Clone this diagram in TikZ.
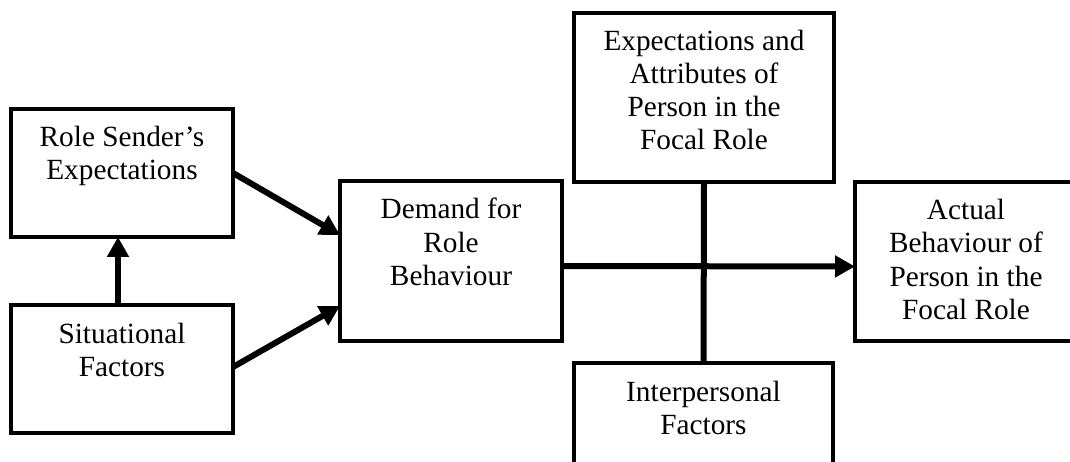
\documentclass[tikz,border=0pt]{standalone}
\usepackage{fontspec}
\setmainfont{Liberation Serif}
\usetikzlibrary{arrows.meta}
\newcommand\boxtxt[3]{\parbox[c][#2][t]{#1}{\centering\fontsize{29.3}{33}\selectfont\rule{0pt}{38pt}#3}}
\tikzset{
  fbox/.style={draw=black, line width=4pt, inner sep=0pt, outer sep=0pt, fill=white},
  conn/.style={line width=6pt, draw=black},
  arr/.style={conn, -{Triangle[length=20pt,width=21pt]}}
}
\begin{document}
\begin{tikzpicture}[x=1pt,y=-1pt]
\path[use as bounding box, clip] (0,0) rectangle (1070,462);
\fill[white] (0,0) rectangle (1070,462);
\node[fbox] (rs)  at (122,173)   {\boxtxt{222pt}{128pt}{Role Sender’s\\Expectations}};
\node[fbox] (sit) at (122,369)   {\boxtxt{222pt}{128pt}{Situational\\Factors}};
\node[fbox] (dem) at (451,261)   {\boxtxt{222pt}{160pt}{Demand for\\Role\\Behaviour}};
\node[fbox] (exp) at (704,97.5)  {\boxtxt{260pt}{169pt}{Expectations and\\Attributes of\\Person in the\\Focal Role}};
\node[fbox] (int) at (703.5,427) {\boxtxt{259pt}{128pt}{Interpersonal\\Factors}};
\node[fbox] (act) at (966,261.5) {\boxtxt{222pt}{159pt}{Actual\\Behaviour of\\Person in the\\Focal Role}};
\draw[arr] ([xshift=-4pt]sit.north) -- ([xshift=-4pt]rs.south);
\draw[arr] (rs.east) -- ([yshift=26pt]dem.west);
\draw[arr] ([yshift=2pt]sit.east) -- ([yshift=-45pt]dem.west);
\draw[conn] (exp.south) -- (int.north);
\draw[arr] ([yshift=-5pt]dem.east) -- ([yshift=-5pt]act.west);
\end{tikzpicture}
\end{document}
